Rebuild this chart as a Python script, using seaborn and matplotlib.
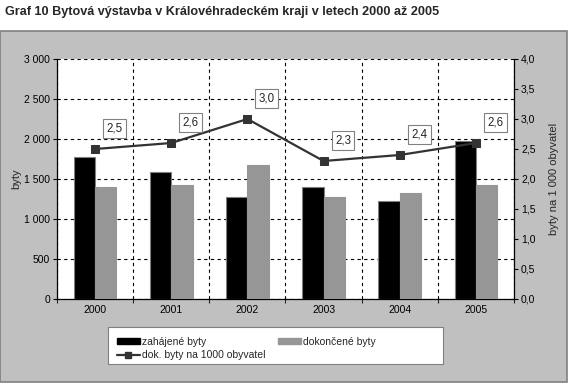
import matplotlib
matplotlib.use("Agg")
import matplotlib.pyplot as plt
import matplotlib.patches as mpatches
from matplotlib.lines import Line2D
import seaborn as sns
import pandas as pd
import numpy as np

years = ["2000", "2001", "2002", "2003", "2004", "2005"]
zahajene = [1771, 1583, 1279, 1396, 1221, 1971]
dokoncene = [1396, 1421, 1675, 1275, 1325, 1421]
na_1000 = [2.5, 2.6, 3.0, 2.3, 2.4, 2.6]
na_1000_labels = ["2,5", "2,6", "3,0", "2,3", "2,4", "2,6"]

sns.set_theme(style="white")
plt.rcParams['font.family'] = ['Liberation Sans', 'DejaVu Sans']

W, H = 576, 387
fig = plt.figure(figsize=(W / 100, H / 100), dpi=100)
fig.patch.set_facecolor("white")

# gray chart area
bg = mpatches.Rectangle((0 / W, 1 - 382 / H), 567 / W, (382 - 31) / H,
                        transform=fig.transFigure, facecolor="#C0C0C0",
                        edgecolor="#808080", linewidth=1.2, zorder=-10)
fig.add_artist(bg)

fig.text(5 / W, 1 - 12 / H, "Graf 10 Bytová výstavba v Královéhradeckém kraji v letech 2000 až 2005",
         fontsize=9.1, fontweight="bold", ha="left", va="center")

left, right, top, bottom = 57, 514, 59, 299
ax = fig.add_axes([left / W, 1 - bottom / H, (right - left) / W, (bottom - top) / H])
ax.set_facecolor("white")

df = pd.DataFrame({
    "rok": years * 2,
    "hodnota": zahajene + dokoncene,
    "druh": ["zahájené byty"] * 6 + ["dokončené byty"] * 6,
})
sns.barplot(data=df, x="rok", y="hodnota", hue="druh", ax=ax,
            palette={"zahájené byty": "#000000", "dokončené byty": "#969696"},
            width=0.56, edgecolor="#808080", linewidth=0.8, legend=False,
            saturation=1, zorder=3)
for p in ax.patches:
    if p.get_facecolor()[0] > 0.5:
        p.set_edgecolor("#969696")

ax.set_xlim(-0.5, 5.5)
ax.set_ylim(0, 3000)
ax.set_yticks(np.arange(0, 3001, 500))
ax.set_yticklabels(["0", "500", "1 000", "1 500", "2 000", "2 500", "3 000"])
ax.set_xlabel("")
ax.set_ylabel("byty", fontsize=8, labelpad=2)
ax.tick_params(axis="both", labelsize=7.5, length=3, width=0.8, direction="out",
               left=True, bottom=True, pad=2, colors="black")
ax.set_xticks(np.arange(-0.5, 6, 1), minor=True)
ax.tick_params(axis="x", which="major", length=0, pad=4)
ax.tick_params(axis="x", which="minor", length=3, width=0.8, bottom=True)

ax.yaxis.grid(True, linestyle=(0, (3, 3)), color="black", linewidth=0.8, zorder=1)
ax.xaxis.grid(True, which="minor", linestyle=(0, (3, 3)), color="black", linewidth=0.8, zorder=1)
ax.xaxis.grid(False, which="major")
ax.set_axisbelow(True)
for side in ["top", "right"]:
    ax.spines[side].set_visible(False)
ax.spines["left"].set_color("black")
ax.spines["bottom"].set_color("black")
ax.spines["left"].set_linewidth(0.9)
ax.spines["bottom"].set_linewidth(0.9)

ax2 = ax.twinx()
ax2.set_ylim(0, 4)
sns.lineplot(x=np.arange(6), y=na_1000, ax=ax2, color="#333333", linewidth=1.6,
             marker="s", markersize=6, markeredgecolor="#333333", zorder=5, legend=False)
ax2.set_yticks(np.arange(0, 4.01, 0.5))
ax2.set_yticklabels([f"{v:.1f}".replace(".", ",") for v in np.arange(0, 4.01, 0.5)])
ax2.tick_params(axis="y", labelsize=7.5, length=3, width=0.8, right=True, pad=2, colors="black")
ax2.set_ylabel("byty na 1 000 obyvatel", fontsize=8, labelpad=10)
for side in ["top", "left", "bottom"]:
    ax2.spines[side].set_visible(False)
ax2.spines["right"].set_color("black")
ax2.spines["right"].set_linewidth(0.9)
ax2.set_xlim(-0.5, 5.5)

for i, (v, lab) in enumerate(zip(na_1000, na_1000_labels)):
    ax2.annotate(lab, (i, v), xytext=(14, 15), textcoords="offset points",
                 ha="center", va="center", fontsize=8.3,
                 bbox=dict(boxstyle="square,pad=0.3", facecolor="white", edgecolor="#808080", linewidth=0.8),
                 zorder=6)

# legend frame
lf = mpatches.Rectangle((108 / W, 1 - 364 / H), (443 - 108) / W, (364 - 327) / H,
                        transform=fig.transFigure, facecolor="white",
                        edgecolor="#808080", linewidth=0.8, zorder=1)
fig.add_artist(lf)

handles = [
    mpatches.Patch(facecolor="black", edgecolor="black", label="zahájené byty"),
    Line2D([0], [0], color="#333333", linewidth=1.6, marker="s", markersize=5, label="dok. byty na 1000 obyvatel"),
    mpatches.Patch(facecolor="#969696", edgecolor="#969696", label="dokončené byty"),
]
leg = fig.legend(handles=handles, ncol=2, loc="upper left",
                 bbox_to_anchor=(108 / W, 1 - 328 / H), fontsize=7.5, frameon=False,
                 handlelength=2.2, handleheight=0.5, columnspacing=1.2, labelspacing=0.3,
                 borderpad=0.35, handletextpad=0.2)
leg.set_zorder(2)

fig.savefig("out.png", dpi=100)
